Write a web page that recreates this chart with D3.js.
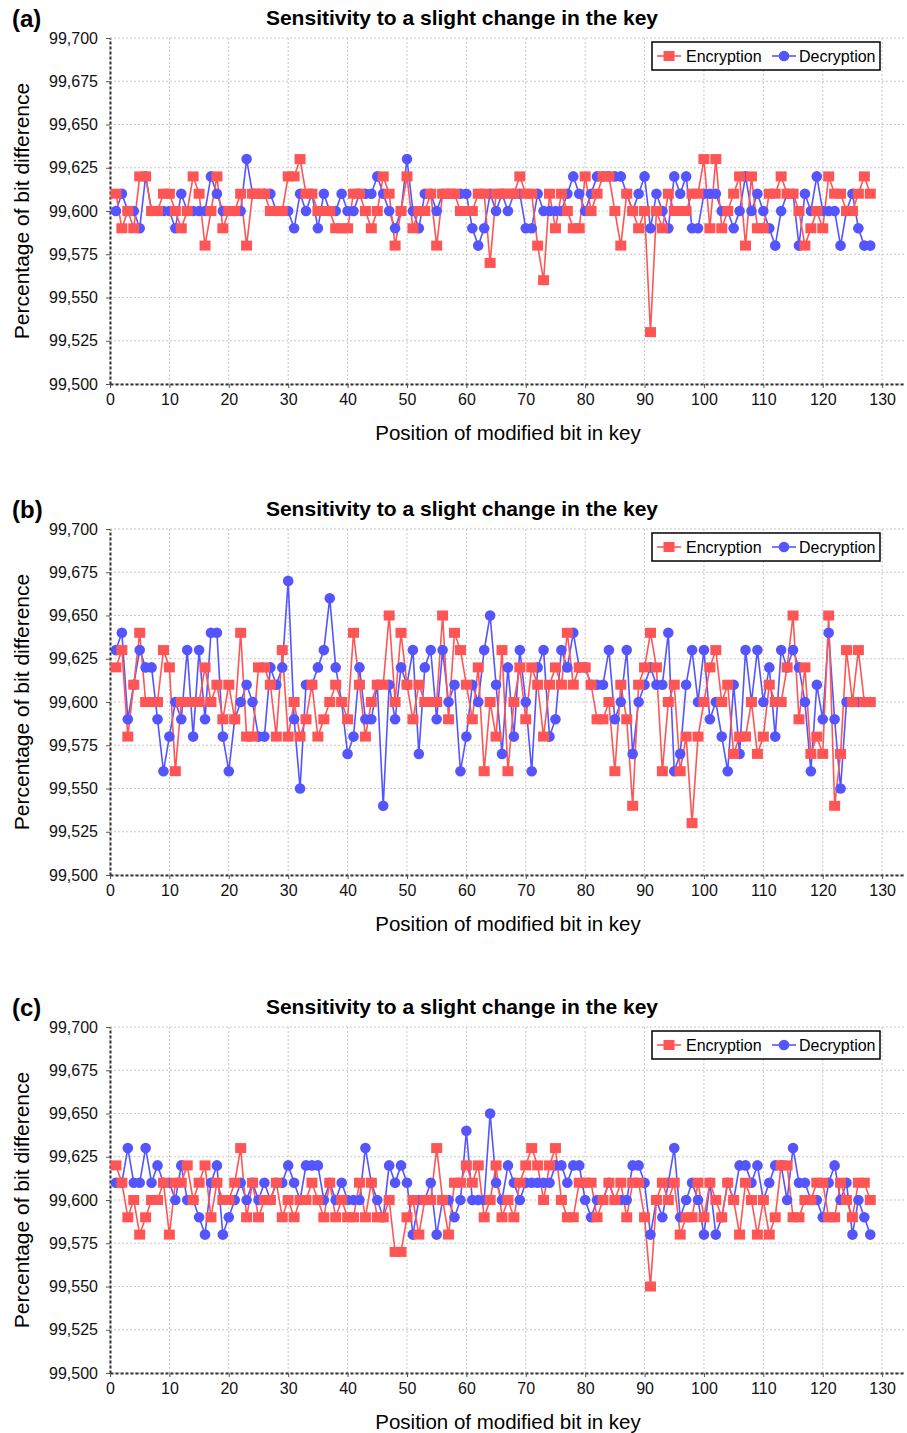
<!DOCTYPE html>
<html>
<head>
<meta charset="utf-8">
<script src="https://cdn.jsdelivr.net/npm/d3@7"></script>
<style>
  body { margin: 0; background: #fff; }
  svg { display: block; font-family: "Liberation Sans", Arial, sans-serif; }
</style>
</head>
<body>
<script>
// Position of modified bit (x categories)
const positions = d3.range(1, 129);

// Panel (a)
const encA = [
  99.61, 99.59, 99.60, 99.59, 99.62, 99.62, 99.60, 99.60, 99.61, 99.61,
  99.60, 99.59, 99.60, 99.62, 99.61, 99.58, 99.60, 99.62, 99.59, 99.60,
  99.60, 99.61, 99.58, 99.61, 99.61, 99.61, 99.60, 99.60, 99.60, 99.62,
  99.62, 99.63, 99.61, 99.61, 99.60, 99.60, 99.60, 99.59, 99.59, 99.59,
  99.61, 99.61, 99.60, 99.59, 99.60, 99.62, 99.61, 99.58, 99.60, 99.62,
  99.59, 99.60, 99.60, 99.61, 99.58, 99.61, 99.61, 99.61, 99.60, 99.60,
  99.60, 99.61, 99.61, 99.57, 99.61, 99.61, 99.61, 99.61, 99.62, 99.61,
  99.61, 99.58, 99.56, 99.61, 99.59, 99.61, 99.60, 99.59, 99.59, 99.62,
  99.60, 99.61, 99.62, 99.62, 99.60, 99.58, 99.61, 99.60, 99.59, 99.60,
  99.53, 99.60, 99.59, 99.61, 99.60, 99.60, 99.60, 99.61, 99.61, 99.63,
  99.59, 99.63, 99.59, 99.60, 99.61, 99.62, 99.58, 99.62, 99.59, 99.59,
  99.61, 99.61, 99.62, 99.61, 99.61, 99.60, 99.58, 99.59, 99.60, 99.59,
  99.62, 99.61, 99.61, 99.60, 99.60, 99.61, 99.62, 99.61
];
const decA = [
  99.60, 99.61, 99.60, 99.60, 99.59, 99.62, 99.60, 99.60, 99.60, 99.60,
  99.59, 99.61, 99.60, 99.60, 99.60, 99.60, 99.62, 99.61, 99.60, 99.60,
  99.60, 99.60, 99.63, 99.61, 99.61, 99.61, 99.61, 99.60, 99.60, 99.60,
  99.59, 99.61, 99.60, 99.61, 99.59, 99.61, 99.60, 99.60, 99.61, 99.60,
  99.60, 99.61, 99.61, 99.61, 99.62, 99.61, 99.60, 99.59, 99.60, 99.63,
  99.60, 99.59, 99.61, 99.61, 99.60, 99.61, 99.61, 99.61, 99.61, 99.61,
  99.59, 99.58, 99.59, 99.61, 99.60, 99.61, 99.60, 99.61, 99.61, 99.59,
  99.59, 99.61, 99.60, 99.60, 99.60, 99.60, 99.61, 99.62, 99.61, 99.60,
  99.61, 99.62, 99.62, 99.62, 99.62, 99.62, 99.61, 99.60, 99.61, 99.62,
  99.59, 99.61, 99.60, 99.59, 99.62, 99.61, 99.62, 99.59, 99.59, 99.61,
  99.61, 99.61, 99.60, 99.60, 99.59, 99.60, 99.62, 99.60, 99.61, 99.60,
  99.59, 99.58, 99.60, 99.61, 99.61, 99.58, 99.61, 99.60, 99.62, 99.60,
  99.60, 99.60, 99.58, 99.60, 99.61, 99.59, 99.58, 99.58
];

// Panel (b)
const encB = [
  99.62, 99.63, 99.58, 99.61, 99.64, 99.60, 99.60, 99.60, 99.63, 99.62,
  99.56, 99.60, 99.60, 99.60, 99.60, 99.62, 99.60, 99.61, 99.59, 99.61,
  99.59, 99.64, 99.58, 99.58, 99.62, 99.62, 99.61, 99.58, 99.63, 99.58,
  99.60, 99.58, 99.59, 99.61, 99.58, 99.59, 99.60, 99.61, 99.60, 99.59,
  99.64, 99.61, 99.58, 99.60, 99.61, 99.61, 99.65, 99.60, 99.64, 99.61,
  99.59, 99.61, 99.60, 99.60, 99.60, 99.65, 99.59, 99.64, 99.63, 99.61,
  99.59, 99.62, 99.56, 99.60, 99.58, 99.63, 99.56, 99.60, 99.62, 99.59,
  99.62, 99.61, 99.58, 99.61, 99.62, 99.61, 99.64, 99.61, 99.62, 99.62,
  99.61, 99.59, 99.59, 99.60, 99.56, 99.61, 99.59, 99.54, 99.61, 99.62,
  99.64, 99.62, 99.56, 99.60, 99.61, 99.56, 99.58, 99.53, 99.58, 99.60,
  99.62, 99.63, 99.60, 99.61, 99.57, 99.58, 99.58, 99.60, 99.57, 99.58,
  99.61, 99.60, 99.60, 99.62, 99.65, 99.59, 99.62, 99.57, 99.58, 99.57,
  99.65, 99.54, 99.57, 99.63, 99.60, 99.63, 99.60, 99.60
];
const decB = [
  99.63, 99.64, 99.59, 99.61, 99.63, 99.62, 99.62, 99.59, 99.56, 99.58,
  99.60, 99.59, 99.63, 99.58, 99.63, 99.59, 99.64, 99.64, 99.58, 99.56,
  99.59, 99.60, 99.61, 99.60, 99.58, 99.58, 99.62, 99.61, 99.62, 99.67,
  99.59, 99.55, 99.61, 99.61, 99.62, 99.63, 99.66, 99.62, 99.60, 99.57,
  99.58, 99.62, 99.59, 99.59, 99.61, 99.54, 99.61, 99.59, 99.62, 99.61,
  99.63, 99.57, 99.62, 99.63, 99.59, 99.63, 99.60, 99.61, 99.56, 99.58,
  99.61, 99.60, 99.63, 99.65, 99.61, 99.57, 99.62, 99.58, 99.63, 99.60,
  99.56, 99.62, 99.63, 99.58, 99.59, 99.63, 99.62, 99.64, 99.62, 99.62,
  99.61, 99.61, 99.61, 99.63, 99.59, 99.60, 99.63, 99.57, 99.60, 99.61,
  99.62, 99.61, 99.61, 99.64, 99.56, 99.57, 99.61, 99.63, 99.60, 99.63,
  99.59, 99.60, 99.58, 99.56, 99.61, 99.57, 99.63, 99.60, 99.63, 99.60,
  99.62, 99.58, 99.63, 99.62, 99.63, 99.62, 99.60, 99.56, 99.61, 99.59,
  99.64, 99.59, 99.55, 99.60, 99.60, 99.60, 99.60, 99.60
];

// Panel (c)
const encC = [
  99.62, 99.61, 99.59, 99.60, 99.58, 99.59, 99.60, 99.60, 99.61, 99.58,
  99.61, 99.61, 99.62, 99.60, 99.61, 99.62, 99.59, 99.61, 99.60, 99.60,
  99.61, 99.63, 99.59, 99.61, 99.59, 99.60, 99.60, 99.61, 99.59, 99.60,
  99.59, 99.60, 99.60, 99.61, 99.60, 99.59, 99.61, 99.59, 99.60, 99.59,
  99.59, 99.61, 99.59, 99.61, 99.59, 99.59, 99.60, 99.57, 99.57, 99.59,
  99.60, 99.58, 99.60, 99.60, 99.63, 99.60, 99.58, 99.61, 99.61, 99.62,
  99.61, 99.62, 99.59, 99.60, 99.62, 99.59, 99.60, 99.59, 99.61, 99.62,
  99.63, 99.62, 99.60, 99.62, 99.63, 99.60, 99.59, 99.59, 99.61, 99.61,
  99.61, 99.59, 99.60, 99.61, 99.60, 99.61, 99.59, 99.61, 99.61, 99.59,
  99.55, 99.60, 99.61, 99.60, 99.61, 99.58, 99.59, 99.59, 99.61, 99.59,
  99.61, 99.60, 99.59, 99.61, 99.60, 99.58, 99.61, 99.60, 99.58, 99.60,
  99.58, 99.59, 99.62, 99.62, 99.59, 99.59, 99.60, 99.60, 99.61, 99.61,
  99.59, 99.59, 99.61, 99.60, 99.59, 99.61, 99.61, 99.60
];
const decC = [
  99.61, 99.61, 99.63, 99.61, 99.61, 99.63, 99.61, 99.62, 99.61, 99.61,
  99.60, 99.62, 99.60, 99.60, 99.59, 99.58, 99.61, 99.62, 99.58, 99.59,
  99.60, 99.61, 99.60, 99.61, 99.60, 99.61, 99.60, 99.61, 99.61, 99.62,
  99.61, 99.60, 99.62, 99.62, 99.62, 99.60, 99.61, 99.60, 99.61, 99.60,
  99.60, 99.60, 99.63, 99.61, 99.60, 99.59, 99.62, 99.61, 99.62, 99.61,
  99.58, 99.60, 99.60, 99.61, 99.58, 99.60, 99.60, 99.59, 99.60, 99.64,
  99.60, 99.60, 99.60, 99.65, 99.61, 99.60, 99.62, 99.61, 99.60, 99.61,
  99.61, 99.61, 99.61, 99.61, 99.62, 99.62, 99.61, 99.62, 99.62, 99.60,
  99.59, 99.60, 99.60, 99.61, 99.60, 99.60, 99.60, 99.62, 99.62, 99.61,
  99.58, 99.60, 99.59, 99.61, 99.63, 99.59, 99.60, 99.61, 99.60, 99.58,
  99.61, 99.58, 99.59, 99.61, 99.60, 99.62, 99.62, 99.61, 99.62, 99.60,
  99.61, 99.62, 99.62, 99.60, 99.63, 99.61, 99.61, 99.60, 99.60, 99.59,
  99.61, 99.62, 99.60, 99.61, 99.58, 99.60, 99.59, 99.58
];

// Axis ticks and labels
const xTicks = [0, 10, 20, 30, 40, 50, 60, 70, 80, 90, 100, 110, 120, 130];
const yTicks = [99.5, 99.525, 99.55, 99.575, 99.6, 99.625, 99.65, 99.675, 99.7];
const yTickLabels = ["99,500", "99,525", "99,550", "99,575", "99,600", "99,625", "99,650", "99,675", "99,700"];
const panelLabels = ["(a)", "(b)", "(c)"];
const chartTitle = "Sensitivity to a slight change in the key";
const xTitle = "Position of modified bit in key";
const yTitle = "Percentage of bit difference";
const seriesNames = ["Encryption", "Decryption"];

const RED = "#ff5555", BLUE = "#5555ff";

const svg = d3.select("body").append("svg")
  .attr("width", 907)
  .attr("height", 1433);

const plotTop = 38, plotH = 346;
const x = d3.scaleLinear().domain([0, 133.85]).range([110, 905]);
const y = d3.scaleLinear().domain([99.5, 99.7]).range([plotH, 0]);

const panels = [
  { label: panelLabels[0], top: 0,   enc: encA, dec: decA },
  { label: panelLabels[1], top: 491, enc: encB, dec: decB },
  { label: panelLabels[2], top: 989, enc: encC, dec: decC }
];

const line = d3.line()
  .x(d => x(d.pos))
  .y(d => y(d.v));

function drawSquare(sel, color) {
  sel.append("rect")
    .attr("x", d => x(d.pos) - 5.5)
    .attr("y", d => y(d.v) - 5)
    .attr("width", 11)
    .attr("height", 10)
    .attr("fill", color);
}

function drawCircle(sel, color) {
  sel.append("circle")
    .attr("cx", d => x(d.pos))
    .attr("cy", d => y(d.v))
    .attr("r", 5.3)
    .attr("fill", color);
}

panels.forEach(p => {
  const g = svg.append("g").attr("transform", `translate(0,${p.top})`);

  // panel label and title
  g.append("text")
    .attr("x", 12).attr("y", 27)
    .style("font-size", "24px").style("font-weight", "bold")
    .text(p.label);

  g.append("text")
    .attr("x", 462).attr("y", 25)
    .attr("text-anchor", "middle")
    .style("font-size", "21px").style("font-weight", "bold")
    .text(chartTitle);

  const plot = g.append("g").attr("transform", `translate(0,${plotTop})`);

  // grid
  plot.append("g").selectAll("line.vg")
    .data(xTicks).enter().append("line")
    .attr("x1", d => x(d)).attr("x2", d => x(d))
    .attr("y1", 0).attr("y2", plotH)
    .attr("stroke", "#c8c8c8").attr("stroke-dasharray", "2,2");

  plot.append("g").selectAll("line.hg")
    .data(yTicks).enter().append("line")
    .attr("x1", 110).attr("x2", 905)
    .attr("y1", d => y(d)).attr("y2", d => y(d))
    .attr("stroke", "#c8c8c8").attr("stroke-dasharray", "2,2");

  // axes
  const yAxis = plot.append("g")
    .attr("transform", "translate(110,0)")
    .call(d3.axisLeft(y).tickValues(yTicks)
      .tickFormat((d, i) => yTickLabels[i]).tickSize(4).tickSizeOuter(0).tickPadding(8));

  const xAxis = plot.append("g")
    .attr("transform", `translate(0,${plotH})`)
    .call(d3.axisBottom(x).tickValues(xTicks).tickSize(4).tickSizeOuter(0).tickPadding(6));

  [yAxis, xAxis].forEach(a => {
    a.select(".domain").attr("stroke", "#333").attr("stroke-width", 2).attr("stroke-dasharray", "3,2");
    a.selectAll(".tick line").attr("stroke", "#555");
    a.selectAll(".tick text").style("font-size", "16px").attr("fill", "#111")
      .style("font-family", "'Liberation Sans', Arial, sans-serif");
  });

  // series data
  const encData = positions.map((pos, i) => ({ pos: pos, v: p.enc[i] }));
  const decData = positions.map((pos, i) => ({ pos: pos, v: p.dec[i] }));

  plot.append("path").datum(decData)
    .attr("fill", "none").attr("stroke", BLUE).attr("stroke-width", 1.6)
    .attr("d", line);
  plot.append("path").datum(encData)
    .attr("fill", "none").attr("stroke", RED).attr("stroke-width", 1.6)
    .attr("d", line);

  drawCircle(plot.append("g").selectAll("circle").data(decData).enter(), BLUE);
  drawSquare(plot.append("g").selectAll("rect").data(encData).enter(), RED);

  // axis titles
  g.append("text")
    .attr("x", 508).attr("y", plotTop + plotH + 56)
    .attr("text-anchor", "middle")
    .style("font-size", "20.5px")
    .text(xTitle);

  g.append("text")
    .attr("transform", "rotate(-90)")
    .attr("x", -(plotTop + plotH / 2))
    .attr("y", 29)
    .attr("text-anchor", "middle")
    .style("font-size", "21px")
    .text(yTitle);

  // legend
  const lg = g.append("g").attr("transform", "translate(652,42)");
  lg.append("rect")
    .attr("width", 228).attr("height", 28)
    .attr("fill", "#fff").attr("stroke", "#000").attr("stroke-width", 1.5);

  lg.append("line").attr("x1", 5).attr("x2", 29).attr("y1", 14).attr("y2", 14)
    .attr("stroke", RED).attr("stroke-width", 1.6);
  lg.append("rect").attr("x", 11.5).attr("y", 9).attr("width", 11).attr("height", 10).attr("fill", RED);
  lg.append("text").attr("x", 34).attr("y", 19.5).style("font-size", "16px").text(seriesNames[0]);

  lg.append("line").attr("x1", 120).attr("x2", 144).attr("y1", 14).attr("y2", 14)
    .attr("stroke", BLUE).attr("stroke-width", 1.6);
  lg.append("circle").attr("cx", 132).attr("cy", 14).attr("r", 5.3).attr("fill", BLUE);
  lg.append("text").attr("x", 147).attr("y", 19.5).style("font-size", "16px").text(seriesNames[1]);
});
</script>
</body>
</html>
